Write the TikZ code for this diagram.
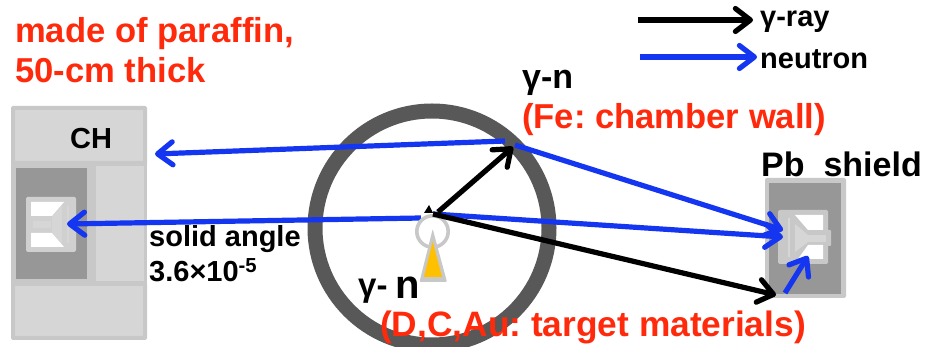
\documentclass[tikz,border=0pt]{standalone}
\usepackage{fontspec}
\setmainfont{Liberation Sans}
\usepackage{tikz}
\usetikzlibrary{arrows.meta}
\definecolor{redtext}{HTML}{FF2A0C}
\definecolor{neutronblue}{HTML}{1436F0}
\definecolor{wallgray}{HTML}{585858}
\definecolor{blockgray}{HTML}{D6D6D6}
\definecolor{edgegray}{HTML}{C8C8C8}
\definecolor{darkgray}{HTML}{979797}
\definecolor{targetyellow}{HTML}{FFC000}
\frenchspacing
\tikzset{
    gammaline/.style={-{Straight Barb[length=15pt,width=23pt,line width=5.2pt,round]}, line width=5.2pt, black},
    neutronline/.style={-{Straight Barb[length=15pt,width=23pt,line width=5.2pt,round]}, line width=5.2pt, neutronblue},
    blocktile/.style={fill=blockgray, draw=edgegray, line width=4pt, rounded corners=0.5pt},
    redlabel/.style={redtext, font=\fontsize{34.6}{40}\selectfont\bfseries, anchor=west, inner sep=0pt, align=left},
    blacklabel/.style={black, font=\fontsize{29}{34}\selectfont\bfseries, anchor=west, inner sep=0pt, align=left}
}
\begin{document}
\begin{tikzpicture}[x=1pt,y=-1pt]
    \useasboundingbox (0,0) rectangle (927,347);

    % CH block on the left
    \fill[edgegray] (11,161) rectangle (147,286);
    \draw[blocktile] (13,108) rectangle (145,163);
    \draw[blocktile] (13,284) rectangle (145,338);
    \fill[blockgray] (96,166) rectangle (143.5,281);
    \fill[darkgray] (16,168) rectangle (87,279);

    % Left detector
    \fill[edgegray!85, rounded corners=1.5pt] (26,197) rectangle (76,252);
    \fill[white] (31,202) -- (64,202) -- (52,216) -- (31,216) -- cycle;
    \fill[white] (31,233) -- (52,233) -- (64,247) -- (31,247) -- cycle;
    \fill[blockgray] (33,221) rectangle (51,228);
    \fill[blockgray] (52,217) -- (62,205) -- (62,244) -- (52,232) -- cycle;
    \fill[blockgray] (67,206) rectangle (69,243);

    % Chamber wall
    \draw[wallgray, line width=15pt] (432,228) circle (117);

    % Pb shield and right detector
    \fill[edgegray, rounded corners=2pt] (765,178) rectangle (846,298);
    \fill[darkgray] (769,183) rectangle (841,294);
    \fill[edgegray, rounded corners=1.5pt] (778,210) rectangle (828,264);
    \fill[edgegray, rounded corners=1pt] (820,230) rectangle (831,246);
    \fill[white] (795,215) -- (823,215) -- (823,230) -- (808,230) -- cycle;
    \fill[white] (808,245) -- (823,245) -- (823,259) -- (798,259) -- cycle;
    \fill[blockgray] (808,235) rectangle (826,242);
    \fill[blockgray] (795,224) -- (808,235) -- (808,242) -- (795,252) -- cycle;
    \fill[blockgray] (788,218) rectangle (790,257);

    % Arrow ends
    \coordinate (sourceleft) at (421,218);
    \coordinate (sourceright) at (433,214);
    \coordinate (gammastart) at (438,212);
    \coordinate (wallleft) at (505,141);
    \coordinate (wallright) at (515,145);
    \coordinate (wallhit) at (513,147);
    \coordinate (chtop) at (155,154);
    \coordinate (leftdet) at (67,224);
    \coordinate (rightupper) at (783,230);
    \coordinate (rightlower) at (783,237);
    \coordinate (shieldhit) at (776,295);
    \coordinate (blueA) at (785,293);
    \coordinate (blueB) at (808,256);

    % Neutrons
    \draw[neutronline] (wallleft) -- (chtop);
    \draw[neutronline] (sourceleft) -- (leftdet);
    \draw[neutronline] (wallright) -- (rightupper);
    \draw[neutronline] (sourceright) -- (rightlower);
    \draw[neutronline] (blueA) -- (blueB);

    % Target
    \draw[edgegray, line width=3.6pt, fill=white] (432.5,231.5) circle (15.7);
    \fill[edgegray, rounded corners=1pt] (432.7,229) -- (419.5,282) -- (447,282) -- cycle;
    \fill[targetyellow] (432.7,241.5) -- (424,277) -- (442,277) -- cycle;

    % Gamma rays
    \fill[black] (424,213) -- (429,205) -- (433,213) -- cycle;
    \draw[gammaline] (gammastart) -- (wallhit);
    \draw[gammaline] (sourceright) -- (shieldhit);

    % Legend
    \coordinate (gammaA) at (638,20);
    \coordinate (gammaB) at (753,20);
    \coordinate (neutronA) at (640,57);
    \coordinate (neutronB) at (757,57);
    \draw[gammaline] (gammaA) -- (gammaB);
    \draw[neutronline] (neutronA) -- (neutronB);
    \node[blacklabel] (gammalabel) at (760,22) {γ-ray};
    \node[blacklabel] (neutronlabel) at (760,59) {neutron};

    % Labels
    \node[redlabel] (madeof) at (15,50) {made of paraffin,\\50-cm thick};
    \node[blacklabel, font=\fontsize{34}{40}\selectfont\bfseries] (wallgn) at (522,83) {γ-n};
    \node[redlabel] (walltext) at (522,120) {(Fe: chamber wall)};
    \node[blacklabel] (chlabel) at (70,139) {CH};
    \node[blacklabel, font=\fontsize{34}{40}\selectfont\bfseries] (pblabel) at (761,164) {Pb\ \ shield};
    \node[blacklabel, font=\fontsize{29}{35}\selectfont\bfseries] (solidangle) at (149,254) {solid angle\\3.6×10\textsuperscript{-5}};
    \node[blacklabel, font=\fontsize{33}{38}\selectfont\bfseries] (targetgamma) at (358,291) {γ-};
    \node[blacklabel, font=\fontsize{40}{44}\selectfont\bfseries] (targetn) at (395,288) {n};
    \node[redlabel, font=\fontsize{35.3}{40}\selectfont\bfseries] (targettext) at (380,327) {(D,C,Au: target materials)};
\end{tikzpicture}
\end{document}
